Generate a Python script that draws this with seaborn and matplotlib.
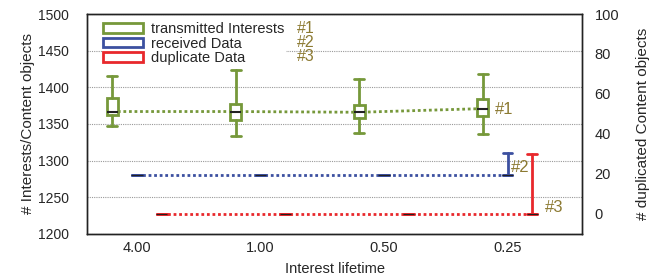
import numpy as np
import seaborn as sns
import matplotlib.pyplot as plt
from matplotlib.patches import Patch

# x categories
lifetimes = ['4.00', '1.00', '0.50', '0.25']

# transmitted Interests (left axis) - box stats
int_med = [1367, 1367, 1366, 1371]
int_q1 = [1362, 1356, 1358, 1361]
int_q3 = [1385, 1377, 1376, 1384]
int_lo = [1347, 1334, 1338, 1337]
int_hi = [1416, 1423, 1412, 1418]

# received Data (left axis)
data_med = [1280, 1280, 1280, 1280]
data_hi = [1280, 1280, 1280, 1311]

# duplicate Data (right axis)
dup_med = [0, 0, 0, 0]
dup_hi = [0, 0, 0, 30]

green = '#76983A'
blue = '#3C50A0'
red = '#E8282C'
gold = '#8C7A32'

sns.set_style('white')
plt.rcParams['font.family'] = ['Liberation Sans', 'DejaVu Sans']
plt.rcParams['font.size'] = 10.5

fig = plt.figure(figsize=(6.62, 2.80), dpi=100)
ax = fig.add_axes([0.1314, 0.1643, 0.7478, 0.7857])
ax2 = ax.twinx()

centers = np.arange(len(lifetimes))
pos_int = centers - 0.2
pos_data = centers
pos_dup = centers + 0.2


def make_stats(med, q1, q3, lo, hi):
    return [dict(med=m, q1=a, q3=b, whislo=l, whishi=h) for m, a, b, l, h in zip(med, q1, q3, lo, hi)]


def draw_boxes(axis, stats, pos, color, med_lw=1.5):
    axis.bxp(stats, positions=pos, widths=0.09, showfliers=False, patch_artist=True,
             boxprops=dict(facecolor='white', edgecolor=color, lw=2),
             whiskerprops=dict(color=color, lw=2),
             capprops=dict(color=color, lw=2),
             medianprops=dict(color='#222222', lw=med_lw),
             capwidths=0.08, manage_ticks=False, zorder=4)


# dotted connecting lines
sns.lineplot(x=pos_int, y=int_med, ax=ax, color=green, lw=2, linestyle=(0, (1, 1)), zorder=3)
sns.lineplot(x=pos_data, y=data_med, ax=ax, color=blue, lw=2, linestyle=(0, (1, 1)), zorder=3)
sns.lineplot(x=pos_dup, y=dup_med, ax=ax2, color=red, lw=2, linestyle=(0, (1, 1)), zorder=3)

draw_boxes(ax, make_stats(int_med, int_q1, int_q3, int_lo, int_hi), pos_int, green)
draw_boxes(ax, make_stats(data_med, data_med, data_med, data_med, data_hi), pos_data, blue, med_lw=0.8)
draw_boxes(ax2, make_stats(dup_med, dup_med, dup_med, dup_med, dup_hi), pos_dup, red, med_lw=0.8)

# axes
ax.set_xlim(-0.405, 3.603)
ax.set_ylim(1200, 1500)
ax2.set_ylim(-10, 100)
ax.set_yticks(range(1200, 1501, 50))
ax2.set_yticks(range(0, 101, 20))
ax.set_xticks(centers)
ax.set_xticklabels(lifetimes)
ax.set_xticks(np.concatenate([pos_int, pos_dup]), minor=True)
ax.tick_params(axis='x', which='both', direction='in', length=4, width=1, color='#333333', pad=5)
ax.tick_params(axis='y', length=0, pad=13, labelsize=10)
ax2.tick_params(axis='y', length=0, pad=9)

ax.yaxis.grid(True, color='#999999', lw=0.8, linestyle=(0, (1, 1)))
ax.xaxis.grid(False)
for a in (ax, ax2):
    for s in a.spines.values():
        s.set_color('#222222')
        s.set_linewidth(1)
        s.set_zorder(10)

ax.set_xlabel('Interest lifetime', labelpad=5)
ax.set_ylabel('# Interests/Content objects', labelpad=2, fontsize=11)
ax2.set_ylabel('# duplicated Content objects', labelpad=12, fontsize=11)

# annotations
ax.text(2.9, 1370, '#1', color=gold, va='center', ha='left', fontsize=12)
ax.text(3.03, 1291, '#2', color=gold, va='center', ha='left', fontsize=12)
ax2.text(3.3, 3, '#3', color=gold, va='center', ha='left', fontsize=12)

# legend
handles = [Patch(facecolor='white', edgecolor=green, lw=2),
           Patch(facecolor='white', edgecolor=blue, lw=2),
           Patch(facecolor='white', edgecolor=red, lw=2)]
labels = ['transmitted Interests', 'received Data', 'duplicate Data']
leg = ax2.legend(handles, labels, loc='upper left', bbox_to_anchor=(0.03, 0.97),
                 frameon=True, framealpha=1, edgecolor='none', facecolor='white',
                 handlelength=2.7, handleheight=0.6, handletextpad=0.6,
                 labelspacing=0.04, borderpad=0.1, borderaxespad=0, fontsize=10.5)
leg.set_zorder(5)
for i, tag in enumerate(['#1', '#2', '#3']):
    ax2.text(0.424, 0.935 - i * 0.0636, tag, color=gold, transform=ax2.transAxes,
             va='center', ha='left', fontsize=11.5, zorder=6)

fig.savefig('out.png', dpi=100)
